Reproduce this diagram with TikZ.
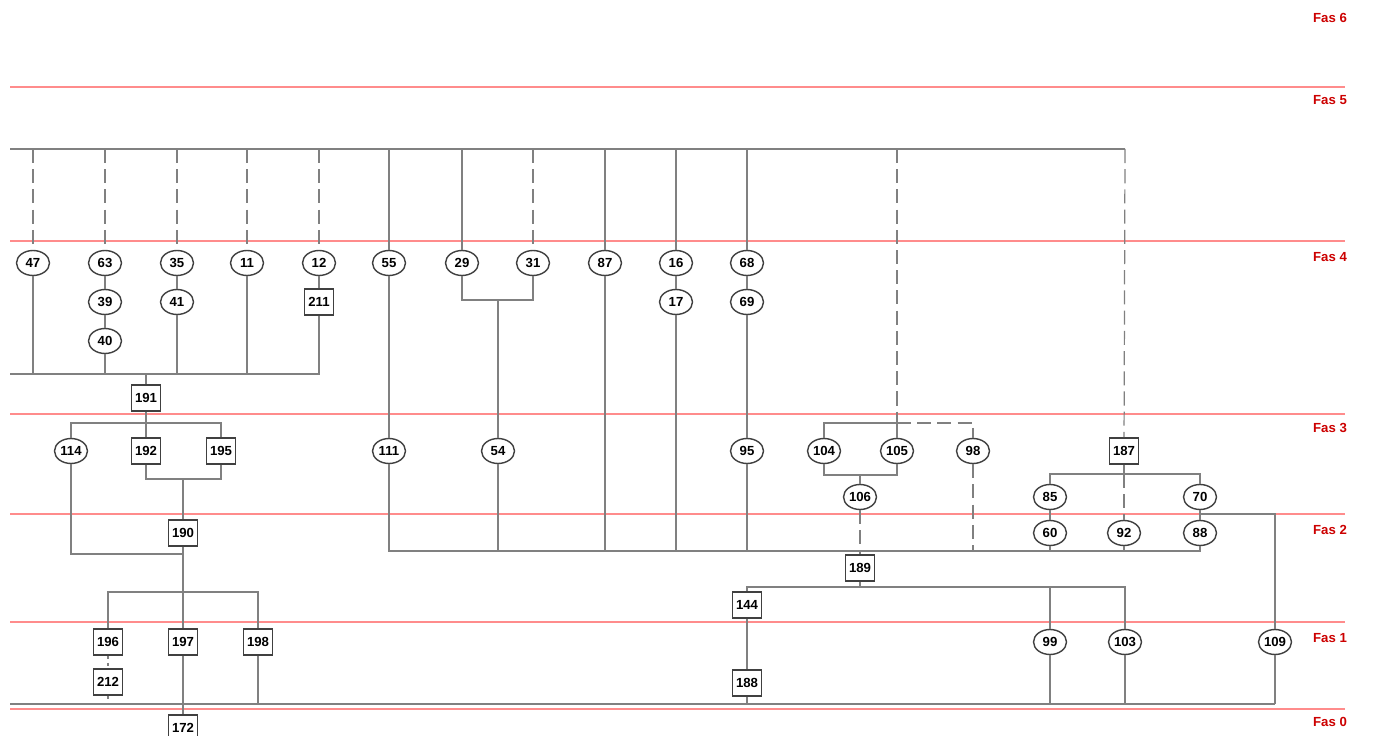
\documentclass[tikz,border=0pt]{standalone}
\usepackage{fontspec}
\setsansfont{Liberation Sans}
\usetikzlibrary{shapes.geometric}
\begin{document}
\begin{tikzpicture}[x=0.02cm, y=-0.02cm,
  ctx/.style={ellipse, draw=black!75, line width=0.8pt, fill=white, inner sep=0pt,
    minimum width=0.66cm, minimum height=0.5cm, font=\sffamily\bfseries\fontsize{7.5}{8}\selectfont},
  unit/.style={rectangle, draw=black!75, line width=0.9pt, fill=white, inner sep=0pt,
    minimum width=0.58cm, minimum height=0.52cm, font=\sffamily\bfseries\fontsize{7.5}{8}\selectfont},
  link/.style={draw=black!50, line width=0.7pt},
  dlink/.style={link, dash pattern=on 8pt off 3.5pt},
  slink/.style={link, dash pattern=on 2pt off 2pt},
  fasline/.style={draw=red!45, line width=0.8pt},
  faslabel/.style={text=red!80!black, font=\sffamily\bfseries\fontsize{7.5}{8}\selectfont}]
  \useasboundingbox (0,0) rectangle (1376,736);

  % phases
  \foreach \y in {87,241,414,514,622,709}
    \draw[fasline] (10,\y) -- (1345,\y);
  \node[faslabel] (f6) at (1330,18) {Fas 6};
  \node[faslabel] (f5) at (1330,100) {Fas 5};
  \node[faslabel] (f4) at (1330,257) {Fas 4};
  \node[faslabel] (f3) at (1330,428) {Fas 3};
  \node[faslabel] (f2) at (1330,530) {Fas 2};
  \node[faslabel] (f1) at (1330,638) {Fas 1};
  \node[faslabel] (f0) at (1330,722) {Fas 0};

  % fas 4
  \node[ctx] (n47) at (33,263) {47};
  \node[ctx] (n63) at (105,263) {63};
  \node[ctx] (n35) at (177,263) {35};
  \node[ctx] (n11) at (247,263) {11};
  \node[ctx] (n12) at (319,263) {12};
  \node[ctx] (n55) at (389,263) {55};
  \node[ctx] (n29) at (462,263) {29};
  \node[ctx] (n31) at (533,263) {31};
  \node[ctx] (n87) at (605,263) {87};
  \node[ctx] (n16) at (676,263) {16};
  \node[ctx] (n68) at (747,263) {68};
  \node[ctx] (n39) at (105,302) {39};
  \node[ctx] (n41) at (177,302) {41};
  \node[unit] (n211) at (319,302) {211};
  \node[ctx] (n17) at (676,302) {17};
  \node[ctx] (n69) at (747,302) {69};
  \node[ctx] (n40) at (105,341) {40};
  \node[unit] (n191) at (146,398) {191};

  % fas 3
  \node[ctx] (n114) at (71,451) {114};
  \node[unit] (n192) at (146,451) {192};
  \node[unit] (n195) at (221,451) {195};
  \node[ctx] (n111) at (389,451) {111};
  \node[ctx] (n54) at (498,451) {54};
  \node[ctx] (n95) at (747,451) {95};
  \node[ctx] (n104) at (824,451) {104};
  \node[ctx] (n105) at (897,451) {105};
  \node[ctx] (n98) at (973,451) {98};
  \node[unit] (n187) at (1124,451) {187};
  \node[ctx] (n106) at (860,497) {106};
  \node[ctx] (n85) at (1050,497) {85};
  \node[ctx] (n70) at (1200,497) {70};

  % fas 2
  \node[unit] (n190) at (183,533) {190};
  \node[ctx] (n60) at (1050,533) {60};
  \node[ctx] (n92) at (1124,533) {92};
  \node[ctx] (n88) at (1200,533) {88};
  \node[unit] (n189) at (860,568) {189};
  \node[unit] (n144) at (747,605) {144};

  % fas 1 and 0
  \node[unit] (n196) at (108,642) {196};
  \node[unit] (n197) at (183,642) {197};
  \node[unit] (n198) at (258,642) {198};
  \node[ctx] (n99) at (1050,642) {99};
  \node[ctx] (n103) at (1125,642) {103};
  \node[ctx] (n109) at (1275,642) {109};
  \node[unit] (n212) at (108,682) {212};
  \node[unit] (n188) at (747,683) {188};
  \node[unit] (n172) at (183,728) {172};

  % busbars
  \coordinate (topL) at (10,149);
  \coordinate (topR) at (1125,149);
  \coordinate (b191) at (10,374);
  \coordinate (b3) at (0,423);
  \coordinate (b190) at (183,479);
  \coordinate (j114) at (183,554);
  \coordinate (b197) at (183,592);
  \coordinate (b54) at (498,300);
  \coordinate (b2) at (0,551);
  \coordinate (b106) at (860,475);
  \coordinate (b187) at (1124,474);
  \coordinate (c109) at (1275,514);
  \coordinate (b189) at (860,587);
  \coordinate (botL) at (10,704);
  \coordinate (botR) at (1275,704);

  % from the top
  \draw[link] (topL) -- (topR);
  \draw[dlink] (n47 |- topL) -- (n47);
  \draw[dlink] (n63 |- topL) -- (n63);
  \draw[dlink] (n35 |- topL) -- (n35);
  \draw[dlink] (n11 |- topL) -- (n11);
  \draw[dlink] (n12 |- topL) -- (n12);
  \draw[link] (n55 |- topL) -- (n55);
  \draw[link] (n29 |- topL) -- (n29);
  \draw[dlink] (n31 |- topL) -- (n31);
  \draw[link] (n87 |- topL) -- (n87);
  \draw[link] (n16 |- topL) -- (n16);
  \draw[link] (n68 |- topL) -- (n68);
  \draw[dlink] (n105 |- topL) -- (n105);
  \draw[dlink] (topR) -- (n187);

  % left group
  \draw[link] (n63) -- (n39) -- (n40);
  \draw[link] (n35) -- (n41);
  \draw[link] (n12) -- (n211);
  \draw[link] (b191) -- (n211 |- b191) -- (n211);
  \draw[link] (n47) -- (n47 |- b191);
  \draw[link] (n40) -- (n40 |- b191);
  \draw[link] (n41) -- (n41 |- b191);
  \draw[link] (n11) -- (n11 |- b191);
  \draw[link] (n191 |- b191) -- (n191);
  \draw[link] (n191) -- (n192);
  \draw[link] (n114) |- (n195 |- b3) -- (n195);
  \draw[link] (n192) |- (b190) -| (n195);
  \draw[link] (b190) -- (n190);
  \draw[link] (n114) |- (j114);
  \draw[link] (n190) -- (n197);
  \draw[link] (n196) |- (b197) -| (n198);
  \draw[slink] (n196) -- (n212);
  \draw[slink] (n212) -- (n212 |- botL);
  \draw[link] (n197) -- (n172);
  \draw[link] (n198) -- (n198 |- botL);

  % middle group
  \draw[link] (n29) |- (b54) -| (n31);
  \draw[link] (b54) -- (n54);
  \draw[link] (n16) -- (n17);
  \draw[link] (n68) -- (n69) -- (n95);
  \draw[link] (n55) -- (n111);
  \draw[link] (n111) |- (n88 |- b2) -- (n88);
  \draw[link] (n54) -- (n54 |- b2);
  \draw[link] (n87) -- (n87 |- b2);
  \draw[link] (n17) -- (n17 |- b2);
  \draw[link] (n95) -- (n95 |- b2);
  \draw[link] (n60) -- (n60 |- b2);
  \draw[link] (n92) -- (n92 |- b2);
  \draw[dlink] (n98) -- (n98 |- b2);

  % right group
  \draw[link] (n104) |- (n105 |- b3) -- (n105);
  \draw[dlink] (n105 |- b3) -| (n98);
  \draw[link] (n104) |- (b106) -| (n105);
  \draw[link] (b106) -- (n106);
  \draw[dlink] (n106) -- (n189);
  \draw[link] (n187) -- (b187);
  \draw[link] (n85) |- (b187) -| (n70);
  \draw[dlink] (b187) -- (n92);
  \draw[link] (n85) -- (n60);
  \draw[link] (n70) -- (n88);
  \draw[link] (n70) |- (c109) -- (n109);
  \draw[link] (n189) -- (b189);
  \draw[link] (n144) |- (n103 |- b189) -- (n103);
  \draw[link] (n99 |- b189) -- (n99);
  \draw[link] (n144) -- (n188);

  % to the bottom
  \draw[link, line width=1pt] (botL) -- (botR);
  \draw[link] (n188) -- (n188 |- botL);
  \draw[link] (n99) -- (n99 |- botL);
  \draw[link] (n103) -- (n103 |- botL);
  \draw[link] (n109) -- (botR);
\end{tikzpicture}
\end{document}
